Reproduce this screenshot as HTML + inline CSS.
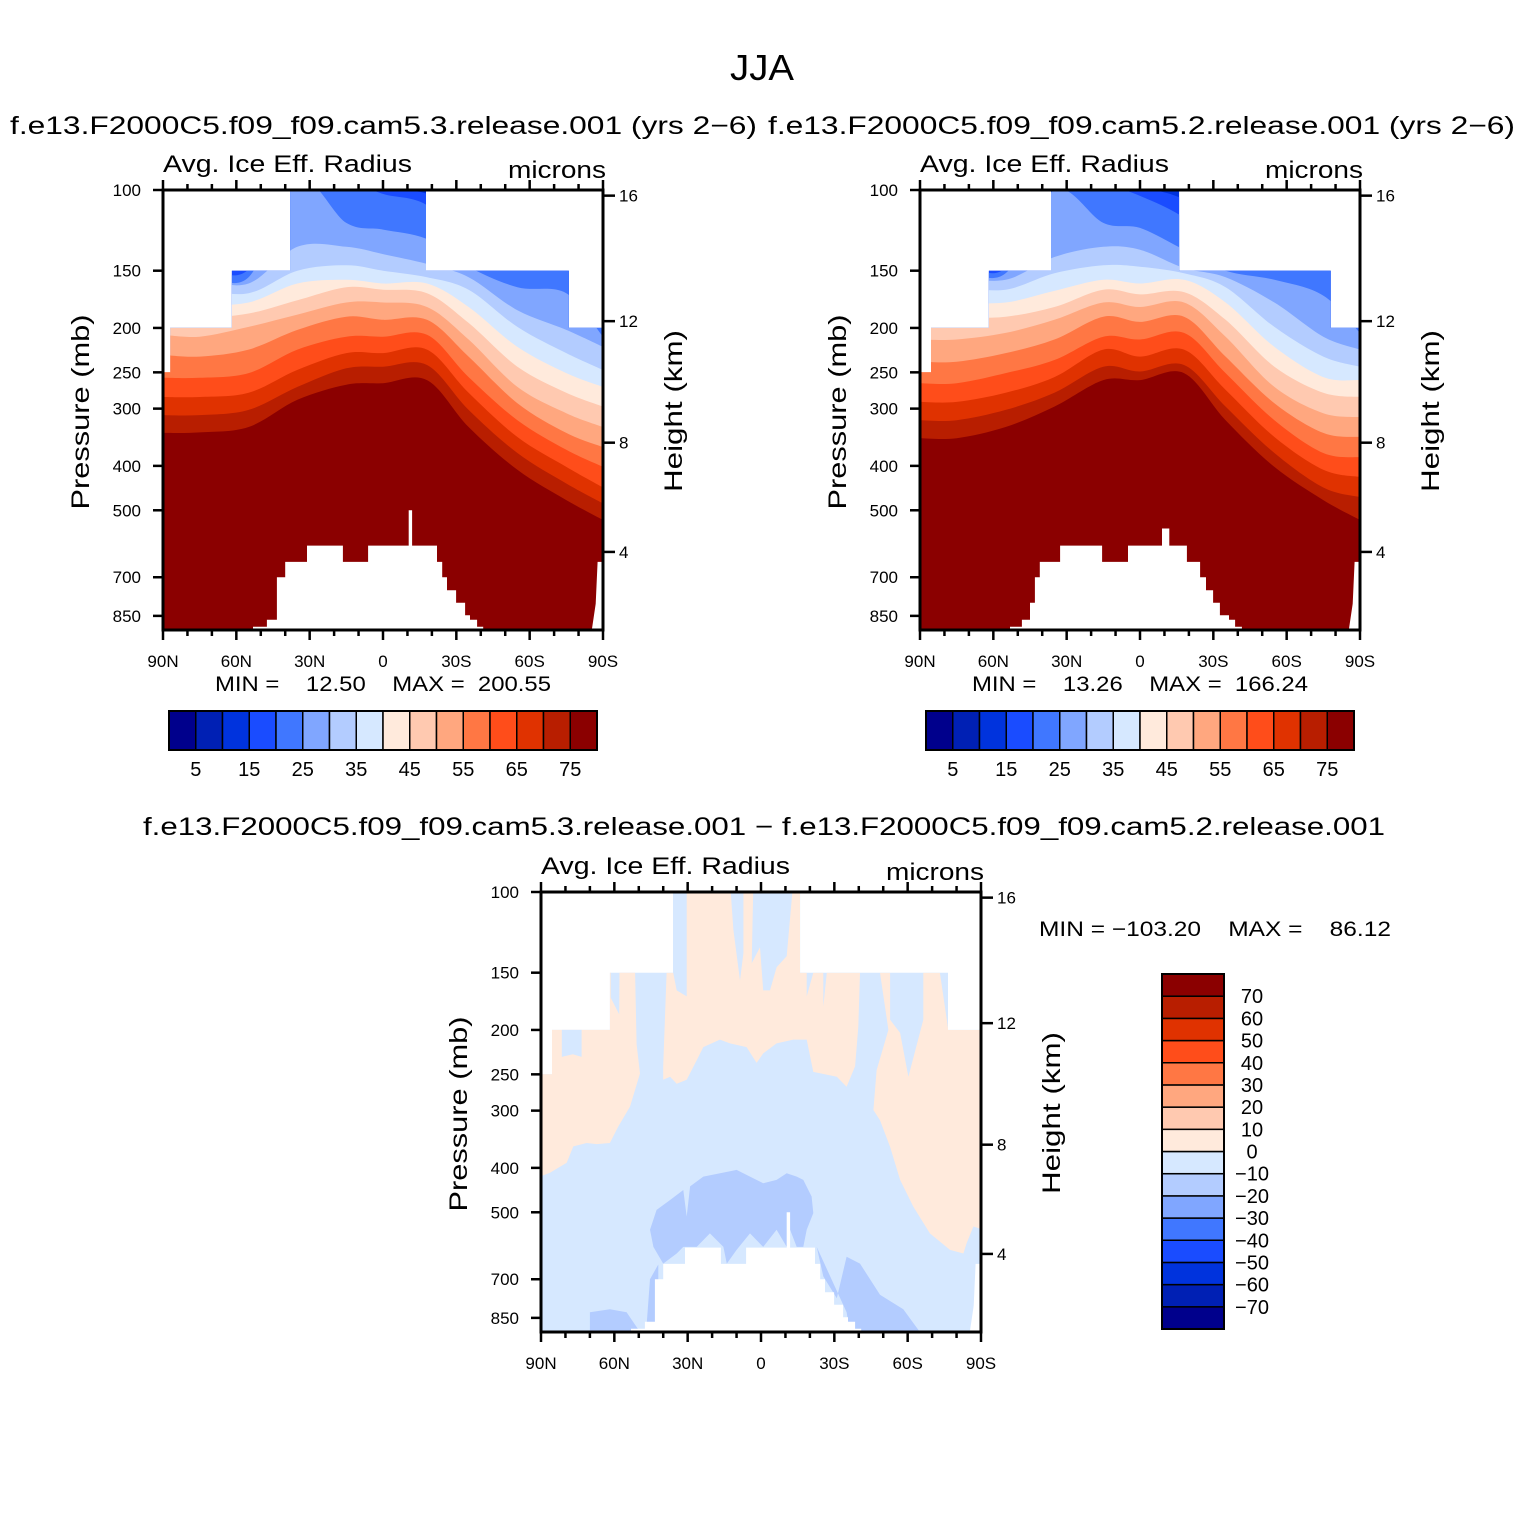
<!DOCTYPE html>
<html>
<head>
<meta charset="utf-8">
<style>
html,body{margin:0;padding:0;background:#fff;}
svg{display:block;}
text{font-family:"Liberation Sans",Arial,sans-serif;fill:#000;}
.pre{white-space:pre;}
</style>
</head>
<body>
<svg id="fig" width="1524" height="1524" viewBox="0 0 1524 1524" xmlns="http://www.w3.org/2000/svg">
<rect x="0" y="0" width="1524" height="1524" fill="#fff"/>
<text x="762" y="80" font-size="36" text-anchor="middle" textLength="64" lengthAdjust="spacingAndGlyphs">JJA</text>
<text x="10" y="134" font-size="25" textLength="747" lengthAdjust="spacingAndGlyphs">f.e13.F2000C5.f09_f09.cam5.3.release.001 (yrs 2−6)</text>
<text x="768" y="134" font-size="25" textLength="747" lengthAdjust="spacingAndGlyphs">f.e13.F2000C5.f09_f09.cam5.2.release.001 (yrs 2−6)</text>
<text x="143" y="835" font-size="25" textLength="1242" lengthAdjust="spacingAndGlyphs">f.e13.F2000C5.f09_f09.cam5.3.release.001 − f.e13.F2000C5.f09_f09.cam5.2.release.001</text>
<g id="layer"></g>
</svg>
<script>
// ---------------- shared data ----------------
const palette = ["#00008c","#0020b4","#0033dd","#1a4cff","#4077ff","#80a6ff","#b3ccff","#d6e8ff","#ffeadc","#ffc9b0","#ffa77f","#ff7744","#ff4d1a","#e03200","#b81e00","#8b0000"];
const lats = [90,75,55,35,15,0,-18,-35,-55,-75,-90];
const levels = [15,20,25,30,35,40,45,50,55,60,65,70,75];
const pressureTicks = [100,150,200,250,300,400,500,700,850];
const heightTicks = [4,8,12,16];
const latTicks = [90,60,30,0,-30,-60,-90];
const latTickLabels = ["90N","60N","30N","0","30S","60S","90S"];
const colorbarLabels = [5,15,25,35,45,55,65,75];
const diffColorbarLabels = [70,60,50,40,30,20,10,0,-10,-20,-30,-40,-50,-60,-70];

// Panel 1 (cam5.3): pressure (mb) where value crosses each level, per latitude
const p1L15 = [137,137,143,90,90,100,102,120,140,140,157];
const p1L20 = [146,146,149,92,95,102,108,135,145,145,174];
const p1L25 = [151,151,155,95,118,122,128,147,163,168,209];
const p1L30 = [157,157,160,133,133,138,145,155,183,202,220];
const p1L35 = [165,165,168,150,146,150,155,165,199,227,247];
const p1L40 = [176,178,176,160,157,160,160,180,220,251,269];
const p1L45 = [187,190,186,174,163,165,168,195,243,277,297];
const p1L50 = [207,209,199,187,176,176,180,212,269,307,329];
const p1L55 = [229,231,223,202,189,192,192,231,292,339,364];
const p1L60 = [257,257,251,223,209,209,207,256,318,369,402];
const p1L65 = [283,283,277,247,227,227,223,277,346,402,446];
const p1L70 = [310,310,302,269,245,243,241,302,375,437,483];
const p1L75 = [339,338,329,287,266,264,260,329,408,475,525];

// Panel 2 (cam5.2)
const p2L15 = [135,135,145,90,90,98,105,125,140,140,160];
const p2L20 = [143,143,148,92,97,103,115,138,145,145,180];
const p2L25 = [148,148,152,100,118,121,135,150,157,170,205];
const p2L30 = [155,155,157,140,133,135,148,155,176,209,223];
const p2L35 = [163,163,165,152,146,147,152,163,199,231,243];
const p2L40 = [176,176,176,166,157,160,157,176,220,256,260];
const p2L45 = [190,190,189,180,165,169,167,192,243,277,283];
const p2L50 = [212,212,205,192,176,180,176,209,269,307,313];
const p2L55 = [237,237,227,212,189,194,189,231,292,339,346];
const p2L60 = [264,264,251,235,209,212,205,251,318,375,383];
const p2L65 = [290,290,277,256,223,231,223,273,346,408,423];
const p2L70 = [318,318,302,277,243,249,241,297,375,446,468];
const p2L75 = [348,348,329,297,260,260,251,318,402,475,525];

// Missing-data top masks (segment latitude edges, top pressure of each segment)
const mask1Lats = [90,87,61.8,38,-17.6,-76,-90];
const mask1P = [250,200,150,100,150,200];
const mask2Lats = [90,85.5,61.8,36.4,-16,-78,-90];
const mask2P = [250,200,150,100,150,200];
const mask3Lats = [90,85.5,61.8,36,-16,-76.5,-90];
const mask3P = [250,200,150,100,150,200];

// Topography (below-ground) polygons [lat, p]
const topo1 = [[53.2,1000],[53.2,898],[47.5,898],[47.5,867],[43.4,867],[43.4,700],[40,700],[40,648],[31.1,648],[31.1,597],[16.4,597],[16.4,648],[6.1,648],[6.1,597],[-10.5,597],[-10.5,500],[-11.9,500],[-11.9,597],[-22.1,597],[-22.1,648],[-24.2,648],[-24.2,700],[-26.2,700],[-26.2,747],[-29.9,747],[-29.9,796],[-33.6,796],[-33.6,847],[-35.6,847],[-35.6,867],[-38.5,867],[-38.5,898],[-41,898],[-41,1000]];
const topo2 = [[53.2,1000],[53.2,898],[48.3,898],[48.3,867],[45,867],[45,796],[43,796],[43,700],[41,700],[41,648],[32.7,648],[32.7,597],[15.5,597],[15.5,648],[4.9,648],[4.9,597],[-9,597],[-9,548],[-12,548],[-12,597],[-19.2,597],[-19.2,648],[-24.6,648],[-24.6,700],[-27,700],[-27,747],[-29.9,747],[-29.9,796],[-32.7,796],[-32.7,847],[-36.4,847],[-36.4,867],[-38.9,867],[-38.9,898],[-41.7,898],[-41.7,1000]];
const topoEdge = [[-85.4,1000],[-87,800],[-87.8,648],[-90,648],[-90,1000]];

// Panel 3 difference regions [lat, p] and their values
const diffBackground = -5;
const diffPosA = [[90,100],[61.5,100],[61.5,170],[58,185],[57.7,100],[52.2,100],[50.9,215],[49.5,249],[53.6,294],[58.4,325],[61.8,353],[67.2,355],[71.3,353],[76.8,359],[79.5,390],[86.3,410],[90,417]];
const diffNegA = [[81.5,195],[81.5,229],[77,226],[73.4,229],[73.4,195]];
const diffPosB = [[30.4,95],[12.7,95],[11.3,121],[8.6,156],[7.2,136],[7.2,95],[3.1,95],[3.8,143],[0.4,132],[-0.9,164],[-3.7,164],[-6.4,146],[-10.5,138],[-13.2,95],[-16,95],[-16,150],[-18.7,150],[-18.7,169],[-21.4,150],[-25.5,150],[-25.5,178],[-26.9,150],[-40.5,150],[-39.8,197],[-38.5,240],[-35,266],[-31,253],[-21.4,247],[-18.7,210],[-13.2,210],[-6.4,214],[-0.9,225],[1.8,236],[5.9,218],[12.7,214],[16.8,210],[23.6,218],[26.3,233],[30.4,257],[34.5,262],[37.2,253],[40,257],[40,240],[38.6,150],[35.9,150],[34.5,164],[30.4,169]];
const diffPosC = [[-48.7,150],[-52.8,150],[-52.8,190],[-56.9,203],[-60.3,253],[-66.4,190],[-66.4,150],[-73.2,150],[-76,190],[-76.6,200],[-91,200],[-91,546],[-86.9,537],[-84.1,584],[-82.8,615],[-77.3,604],[-69.1,556],[-62.3,486],[-56.9,425],[-52.8,360],[-48.7,315],[-46,299],[-47.3,245],[-52.1,200]];
const diffNegD = [[45.4,546],[42.7,494],[37.2,470],[31.8,447],[30.4,511],[29,439],[23.6,418],[12.7,407],[10,404],[4.5,418],[-0.9,432],[-6.4,425],[-10.5,411],[-14.6,418],[-17.3,425],[-20.7,462],[-21.4,502],[-18.7,546],[-17.3,595],[-14.6,595],[-11.9,546],[-10.5,595],[-6.4,546],[-0.9,595],[4.5,556],[10,604],[14,647],[15.4,595],[20.9,556],[26.3,595],[31.8,595],[34.5,615],[40,647],[44,595]];
const diffNegE = [[-22.8,595],[-25.5,690],[-31,770],[-35,625],[-40.5,647],[-48.7,757],[-58.2,814],[-65,930],[-36.4,930],[-35,826]];
const diffNegF = [[70,930],[70,826],[61.8,814],[55,826],[49.5,930]];
const diffNegG = [[47,930],[45.4,700],[42,650],[42,930]];
const diffRegions = [diffPosA, diffNegA, diffPosB, diffPosC, diffNegD, diffNegE, diffNegF, diffNegG];
const diffValues = [5, -5, 5, 5, -15, -15, -15, -15];

// ---------------- helpers ----------------
const NS = "http://www.w3.org/2000/svg";
const root = document.getElementById("layer");
const PW = 440, PH = 440;
function X(x0, lat){ return x0 + (90 - lat) * PW / 180; }
function Y(y0, p){ return y0 + 199 * Math.log(p / 100); }
function mk(tag, attrs, parent){
  const e = document.createElementNS(NS, tag);
  for (const k in attrs) e.setAttribute(k, attrs[k]);
  (parent || root).appendChild(e);
  return e;
}
function txt(str, attrs, parent){ const t = mk("text", attrs, parent); t.textContent = str; return t; }
function heightToP(z){
  const m = z * 1000;
  if (m <= 11000) return 1013.25 * Math.pow(1 - 2.25577e-5 * m, 5.25588);
  return 226.32 * Math.exp(-(m - 11000) / 6341.6);
}
function smoothPath(pts){
  let d = "M" + pts[0][0].toFixed(1) + "," + pts[0][1].toFixed(1);
  for (let i = 0; i < pts.length - 1; i++){
    const p0 = pts[i-1] || pts[i], p1 = pts[i], p2 = pts[i+1], p3 = pts[i+2] || pts[i+1];
    const c1x = p1[0] + (p2[0]-p0[0])/6, c1y = p1[1] + (p2[1]-p0[1])/6;
    const c2x = p2[0] - (p3[0]-p1[0])/6, c2y = p2[1] - (p3[1]-p1[1])/6;
    d += " C" + c1x.toFixed(1) + "," + c1y.toFixed(1) + " " + c2x.toFixed(1) + "," + c2y.toFixed(1) + " " + p2[0].toFixed(1) + "," + p2[1].toFixed(1);
  }
  return d;
}
function polyPoints(x0, y0, arr){
  return arr.map(q => X(x0, q[0]).toFixed(1) + "," + Math.min(Y(y0, q[1]), y0 + PH).toFixed(1)).join(" ");
}
function makeClip(id, x0, y0, mLats, mP){
  const cp = mk("clipPath", {id: id});
  const pts = [[X(x0, 90), y0 + PH]];
  for (let i = 0; i < mP.length; i++){
    pts.push([X(x0, mLats[i]), Y(y0, mP[i])]);
    pts.push([X(x0, mLats[i+1]), Y(y0, mP[i])]);
  }
  pts.push([X(x0, -90), y0 + PH]);
  mk("polygon", {points: pts.map(q => q[0].toFixed(1) + "," + q[1].toFixed(1)).join(" ")}, cp);
}
function valueIndex(v){ return Math.max(0, Math.min(15, Math.floor(v / 10) + 8)); }

function drawAxes(g, x0, y0, name){
  const frame = mk("rect", {x: x0, y: y0, width: PW, height: PH, fill: "none", stroke: "#000", "stroke-width": 3}, g);
  
  
  pressureTicks.forEach(p => {
    const y = Y(y0, p);
    mk("line", {x1: x0 - 10, y1: y, x2: x0, y2: y, stroke: "#000", "stroke-width": 2.5}, g);
    const t = txt(String(p), {x: x0 - 22, y: y + 6, "font-size": 17, "text-anchor": "end"}, g);
    
    
  });
  heightTicks.forEach(z => {
    const y = Y(y0, heightToP(z));
    mk("line", {x1: x0 + PW, y1: y, x2: x0 + PW + 12, y2: y, stroke: "#000", "stroke-width": 2.5}, g);
    const t = txt(String(z), {x: x0 + PW + 16, y: y + 6, "font-size": 17}, g);
    
    
  });
  for (let lat = 90; lat >= -90; lat -= 10){
    const x = X(x0, lat);
    const major = (lat % 30 === 0);
    const L = major ? 10 : 6;
    mk("line", {x1: x, y1: y0 + PH, x2: x, y2: y0 + PH + L, stroke: "#000", "stroke-width": 2.5}, g);
    mk("line", {x1: x, y1: y0, x2: x, y2: y0 - L, stroke: "#000", "stroke-width": 2.5}, g);
  }
  latTicks.forEach((lat, i) => {
    const t = txt(latTickLabels[i], {x: X(x0, lat), y: y0 + PH + 37, "font-size": 17, "text-anchor": "middle"}, g);
    
    
  });
  const a = txt("Avg. Ice Eff. Radius", {x: x0, y: y0 - 18, "font-size": 24, textLength: 249, lengthAdjust: "spacingAndGlyphs"}, g);
  
  
  const u = txt("microns", {x: x0 + PW + 3, y: y0 - 12, "font-size": 24, "text-anchor": "end", textLength: 98, lengthAdjust: "spacingAndGlyphs"}, g);
  
  
  const yl = txt("Pressure (mb)", {x: 0, y: 0, "font-size": 25, "text-anchor": "middle", textLength: 195, lengthAdjust: "spacingAndGlyphs", transform: "translate(" + (x0 - 74) + "," + (y0 + 222) + ") rotate(-90)"}, g);
  
  
  const hl = txt("Height (km)", {x: 0, y: 0, "font-size": 25, "text-anchor": "middle", textLength: 162, lengthAdjust: "spacingAndGlyphs", transform: "translate(" + (x0 + PW + 79) + "," + (y0 + 221) + ") rotate(-90)"}, g);
  
  
}

function drawFieldPanel(name, x0, y0, levelArrays, mLats, mP, topo, minmax){
  const g = mk("g", {});
  
  
  makeClip(name + "-clip", x0, y0, mLats, mP);
  const fg = mk("g", {"clip-path": "url(#" + name + "-clip)"}, g);
  const bg = mk("rect", {x: x0, y: y0, width: PW, height: PH, fill: palette[2]}, fg);
  
  
  levels.forEach((lv, k) => {
    const arr = levelArrays[k];
    const pts = lats.map((lat, i) => [X(x0, lat), Y(y0, arr[i])]);
    const d = smoothPath(pts) + " L" + X(x0, -90) + "," + (y0 + PH) + " L" + X(x0, 90) + "," + (y0 + PH) + " Z";
    const path = mk("path", {d: d, fill: palette[lv / 5]}, fg);
    
    
  });
  const tp = mk("polygon", {points: polyPoints(x0, y0, topo), fill: "#fff"}, g);
  
  
  const te = mk("polygon", {points: polyPoints(x0, y0, topoEdge), fill: "#fff"}, g);
  
  
  drawAxes(g, x0, y0, name);
  const mm = txt(minmax, {x: x0 + 52, y: y0 + PH + 61, "font-size": 21, "class": "pre", textLength: 336, lengthAdjust: "spacingAndGlyphs"}, g);
  
  
  const cx = x0 + 6, cy = y0 + PH + 81, cw = 428, ch = 39, bw = cw / 16;
  const cb = mk("g", {}, g);
  
  
  palette.forEach((c, i) => {
    const r = mk("rect", {x: cx + i * bw, y: cy, width: bw, height: ch, fill: c, stroke: "#000", "stroke-width": 1.5}, cb);
    
    
  });
  mk("rect", {x: cx, y: cy, width: cw, height: ch, fill: "none", stroke: "#000", "stroke-width": 2}, cb);
  colorbarLabels.forEach(v => {
    const t = txt(String(v), {x: cx + (v / 5) * bw, y: cy + 65, "font-size": 20, "text-anchor": "middle"}, cb);
    
    
  });
}

drawFieldPanel("panel-cam53", 163, 190,
  [p1L15,p1L20,p1L25,p1L30,p1L35,p1L40,p1L45,p1L50,p1L55,p1L60,p1L65,p1L70,p1L75],
  mask1Lats, mask1P, topo1, "MIN =    12.50    MAX =  200.55");
drawFieldPanel("panel-cam52", 920, 190,
  [p2L15,p2L20,p2L25,p2L30,p2L35,p2L40,p2L45,p2L50,p2L55,p2L60,p2L65,p2L70,p2L75],
  mask2Lats, mask2P, topo2, "MIN =    13.26    MAX =  166.24");

// ---------------- difference panel ----------------
(function(){
  const name = "panel-difference", x0 = 541, y0 = 892;
  const g = mk("g", {});
  
  
  makeClip(name + "-clip", x0, y0, mask3Lats, mask3P);
  const fg = mk("g", {"clip-path": "url(#" + name + "-clip)"}, g);
  const bg = mk("rect", {x: x0, y: y0, width: PW, height: PH, fill: palette[valueIndex(diffBackground)]}, fg);
  
  
  diffRegions.forEach((reg, i) => {
    const pg = mk("polygon", {points: polyPoints(x0, y0, reg), fill: palette[valueIndex(diffValues[i])]}, fg);
    
    
  });
  const tp = mk("polygon", {points: polyPoints(x0, y0, topo1), fill: "#fff"}, g);
  
  
  const te = mk("polygon", {points: polyPoints(x0, y0, topoEdge), fill: "#fff"}, g);
  
  
  drawAxes(g, x0, y0, name);
  const mm = txt("MIN = −103.20    MAX =    86.12", {x: 1039, y: 936, "font-size": 21, "class": "pre", textLength: 352, lengthAdjust: "spacingAndGlyphs"}, g);
  
  
  const cx = 1162, cy = 974, cw = 62, ch = 355, bh = ch / 16;
  const cb = mk("g", {}, g);
  
  
  palette.forEach((c, i) => {
    const r = mk("rect", {x: cx, y: cy + (15 - i) * bh, width: cw, height: bh, fill: c, stroke: "#000", "stroke-width": 1.5}, cb);
    
    
  });
  mk("rect", {x: cx, y: cy, width: cw, height: ch, fill: "none", stroke: "#000", "stroke-width": 2}, cb);
  diffColorbarLabels.forEach(v => {
    const k = 8 - v / 10;
    const t = txt(String(v).replace("-", "−"), {x: 1252, y: cy + k * bh + 7, "font-size": 20, "text-anchor": "middle"}, cb);
    
    
  });
})();
</script>
</body>
</html>
